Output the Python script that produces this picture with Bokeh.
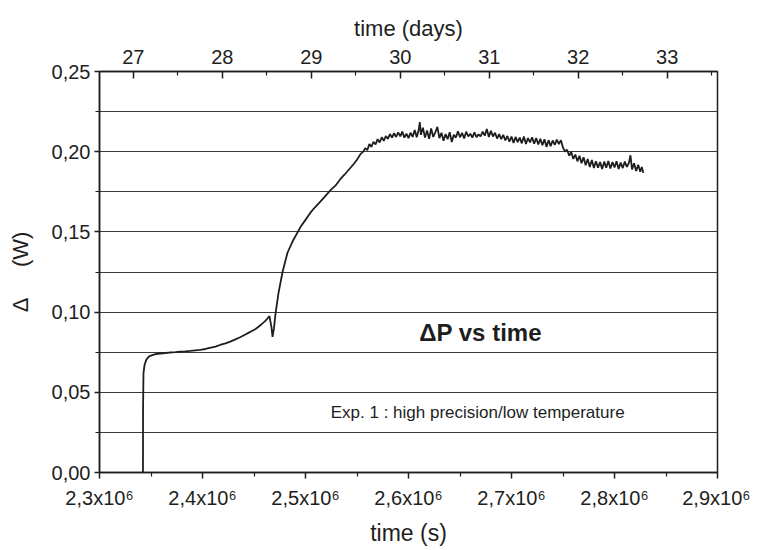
from bokeh.plotting import figure
from bokeh.models import (Range1d, LinearAxis, FixedTicker, CustomJSTickFormatter, Label)
from bokeh.embed import file_html
from bokeh.resources import INLINE

# ---- data (time in s, delta P in W) ----
time_s = [
    2342200, 2342300, 2342700, 2343700, 2345600, 2348500, 2354400, 2359000, 2364100,
    2368000, 2373800, 2378000, 2383500, 2388000, 2393200, 2398000, 2402900, 2407000,
    2412600, 2417000, 2422300, 2427000, 2432000, 2436000, 2441700, 2445000, 2448000,
    2451500, 2455000, 2458300, 2461000, 2463100, 2465000, 2467000, 2468000, 2469400,
    2470900, 2473800, 2477700, 2482500, 2487400, 2495100, 2500000, 2504800, 2509000,
    2514600, 2519000, 2524300, 2529000, 2534000, 2538000, 2543700, 2547000, 2550000,
    2553400,
    2556000, 2558000, 2560000, 2562000, 2564000, 2566000, 2568000, 2570000, 2572000,
    2574000, 2576000, 2578000, 2580000, 2582000, 2584000, 2586000, 2588000, 2590000,
    2592000, 2594000, 2596000, 2598000, 2600000, 2602000, 2604000, 2606000, 2608000,
    2610000, 2611000, 2612000, 2614000, 2616000, 2618000, 2620000, 2622000, 2624000,
    2626000, 2628000, 2630000, 2632000, 2634000, 2636000, 2638000, 2640000, 2642000,
    2644000, 2646000, 2648000, 2650000, 2652000, 2654000, 2656000, 2658000, 2660000,
    2662000, 2664000, 2666000, 2668000, 2670000, 2672000, 2674000, 2676000, 2678000,
    2680000, 2682000, 2684000, 2686000, 2688000, 2690000, 2692000, 2694000, 2696000,
    2698000, 2700000, 2702000, 2704000, 2706000, 2708000, 2710000, 2712000, 2714000,
    2716000, 2718000, 2720000, 2722000, 2724000, 2726000, 2728000, 2730000, 2732000,
    2734000, 2736000, 2738000, 2740000, 2742000, 2744000, 2746000, 2748000, 2750000,
    2752000, 2754000, 2756000, 2758000, 2760000, 2762000, 2764000, 2766000, 2768000,
    2770000, 2772000, 2774000, 2776000, 2778000, 2780000, 2782000, 2784000, 2786000,
    2788000, 2790000, 2792000, 2794000, 2796000, 2798000, 2800000, 2802000, 2804000,
    2806000, 2808000, 2810000, 2812000, 2814000, 2815500, 2817000, 2819000, 2821000,
    2823000, 2825000, 2826500, 2828000,
]
delta_p = [
    0.0000, 0.0400, 0.0620, 0.0670, 0.0705, 0.0725, 0.0738, 0.0742, 0.0745,
    0.0748, 0.0750, 0.0754, 0.0755, 0.0758, 0.0762, 0.0765, 0.0770, 0.0777,
    0.0785, 0.0795, 0.0805, 0.0816, 0.0830, 0.0842, 0.0860, 0.0872, 0.0882,
    0.0895, 0.0912, 0.0930, 0.0945, 0.0960, 0.0975, 0.0905, 0.0845, 0.0900,
    0.0990, 0.1120, 0.1250, 0.1370, 0.1440, 0.1530, 0.1575, 0.1620, 0.1652,
    0.1690, 0.1722, 0.1760, 0.1788, 0.1830, 0.1858, 0.1900, 0.1925, 0.1950,
    0.1985,
    0.2000, 0.2022, 0.2010, 0.2048, 0.2030, 0.2062, 0.2045, 0.2078, 0.2058,
    0.2090, 0.2068, 0.2098, 0.2080, 0.2110, 0.2088, 0.2115, 0.2092, 0.2120,
    0.2095, 0.2125, 0.2088, 0.2112, 0.2085, 0.2118, 0.2092, 0.2135, 0.2090,
    0.2140, 0.2185, 0.2105, 0.2150, 0.2088, 0.2132, 0.2080, 0.2145, 0.2092,
    0.2120, 0.2155, 0.2085, 0.2118, 0.2068, 0.2110, 0.2078, 0.2122, 0.2060,
    0.2105, 0.2088, 0.2128, 0.2090, 0.2118, 0.2082, 0.2125, 0.2095, 0.2112,
    0.2088, 0.2120, 0.2090, 0.2108, 0.2095, 0.2125, 0.2100, 0.2142, 0.2092,
    0.2130, 0.2095, 0.2118, 0.2082, 0.2110, 0.2078, 0.2105, 0.2070, 0.2098,
    0.2062, 0.2095, 0.2055, 0.2092, 0.2060, 0.2088, 0.2052, 0.2095, 0.2048,
    0.2085, 0.2058, 0.2090, 0.2050, 0.2085, 0.2045, 0.2080, 0.2040, 0.2078,
    0.2030, 0.2072, 0.2035, 0.2070, 0.2042, 0.2075, 0.2048, 0.2072, 0.2025,
    0.2000, 0.2012, 0.1975, 0.1998, 0.1955, 0.1982, 0.1940, 0.1975, 0.1928,
    0.1965, 0.1915, 0.1955, 0.1905, 0.1948, 0.1898, 0.1940, 0.1900, 0.1935,
    0.1892, 0.1938, 0.1900, 0.1942, 0.1895, 0.1935, 0.1902, 0.1940, 0.1892,
    0.1932, 0.1898, 0.1938, 0.1905, 0.1930, 0.1978, 0.1890, 0.1928, 0.1880,
    0.1918, 0.1875, 0.1905, 0.1868,
]

x_ticks = [2300000, 2400000, 2500000, 2600000, 2700000, 2800000, 2900000]
x_minor = [2350000, 2450000, 2550000, 2650000, 2750000, 2850000]
x_labels = ["2,3x10\u2076", "2,4x10\u2076", "2,5x10\u2076", "2,6x10\u2076",
            "2,7x10\u2076", "2,8x10\u2076", "2,9x10\u2076"]
y_ticks = [0.0, 0.05, 0.10, 0.15, 0.20, 0.25]
y_minor = [0.025, 0.075, 0.125, 0.175, 0.225]
day_ticks = [27, 28, 29, 30, 31, 32, 33]
day_minor = [26.5, 27.5, 28.5, 29.5, 30.5, 31.5, 32.5, 33.5]
seconds_per_day = 86400

FONT = "Liberation Sans"
INK = "#1e1e1e"
NB = "\u00a0"

p = figure(width=750, height=548, output_backend="svg", toolbar_location=None,
           x_range=Range1d(2300000, 2900000), y_range=Range1d(0, 0.25),
           x_axis_label="time (s)",
           y_axis_label="\u0394" + NB * 5 + "(W)")
p.min_border_left = 99
p.min_border_right = 33
p.min_border_top = 71
p.min_border_bottom = 76
p.outline_line_color = INK
p.outline_line_width = 1.5
p.background_fill_color = "white"
p.border_fill_color = "white"

p.extra_x_ranges = {"days": Range1d(2300000 / seconds_per_day, 2900000 / seconds_per_day)}

p.line(time_s, delta_p, line_color=INK, line_width=1.8)

# bottom axis
xa = p.xaxis[0]
xa.ticker = FixedTicker(ticks=x_ticks, minor_ticks=x_minor)
xa.major_label_overrides = {t: l for t, l in zip(x_ticks, x_labels)}
# left axis
ya = p.yaxis[0]
ya.ticker = FixedTicker(ticks=y_ticks, minor_ticks=y_minor)
ya.formatter = CustomJSTickFormatter(code="return tick.toFixed(2).replace('.', ',');")

# top axis (days)
top = LinearAxis(x_range_name="days", axis_label="time (days)",
                 ticker=FixedTicker(ticks=day_ticks, minor_ticks=day_minor))
p.add_layout(top, "above")
top.major_tick_in = 7
top.major_tick_out = 0
top.minor_tick_in = 4
top.minor_tick_out = 0

for ax in (xa, ya, top):
    ax.axis_line_color = INK
    ax.axis_line_width = 1.5
    ax.major_tick_line_color = INK
    ax.minor_tick_line_color = INK
    ax.major_tick_line_width = 1.5
    ax.minor_tick_line_width = 1.2
    ax.major_label_text_font = FONT
    ax.major_label_text_font_size = "20px"
    ax.major_label_text_color = INK
    ax.axis_label_text_font = FONT
    ax.axis_label_text_font_size = "22px"
    ax.axis_label_text_font_style = "normal"
    ax.axis_label_text_color = INK

xa.major_tick_out = 6
xa.major_tick_in = 0
xa.minor_tick_out = 4
xa.minor_tick_in = 0
xa.major_label_standoff = 8
xa.axis_label_standoff = 8
xa.axis_label_text_font_size = "23px"

ya.major_tick_out = 5
ya.major_tick_in = 0
ya.minor_tick_out = 4
ya.minor_tick_in = 0
ya.major_label_standoff = 4
ya.axis_label_standoff = 16

top.major_label_standoff = 8
top.axis_label_standoff = 6

p.xgrid.visible = False
p.ygrid.ticker = FixedTicker(ticks=y_minor + y_ticks[1:-1])
p.ygrid.grid_line_color = "#3a3a3a"
p.ygrid.grid_line_width = 1

title_x, title_y = 2670000, 0.0873
note_x, note_y = 2524500, 0.0374
p.add_layout(Label(x=title_x, y=title_y, text="\u0394P vs time", text_font=FONT,
                   text_font_size="24px", text_font_style="bold", text_color=INK,
                   text_align="center", text_baseline="middle"))
p.add_layout(Label(x=note_x, y=note_y, text="Exp. 1 : high precision/low temperature",
                   text_font=FONT, text_font_size="17px", text_color=INK,
                   text_align="left", text_baseline="middle"))

open("out.html", "w").write(file_html(p, INLINE))
